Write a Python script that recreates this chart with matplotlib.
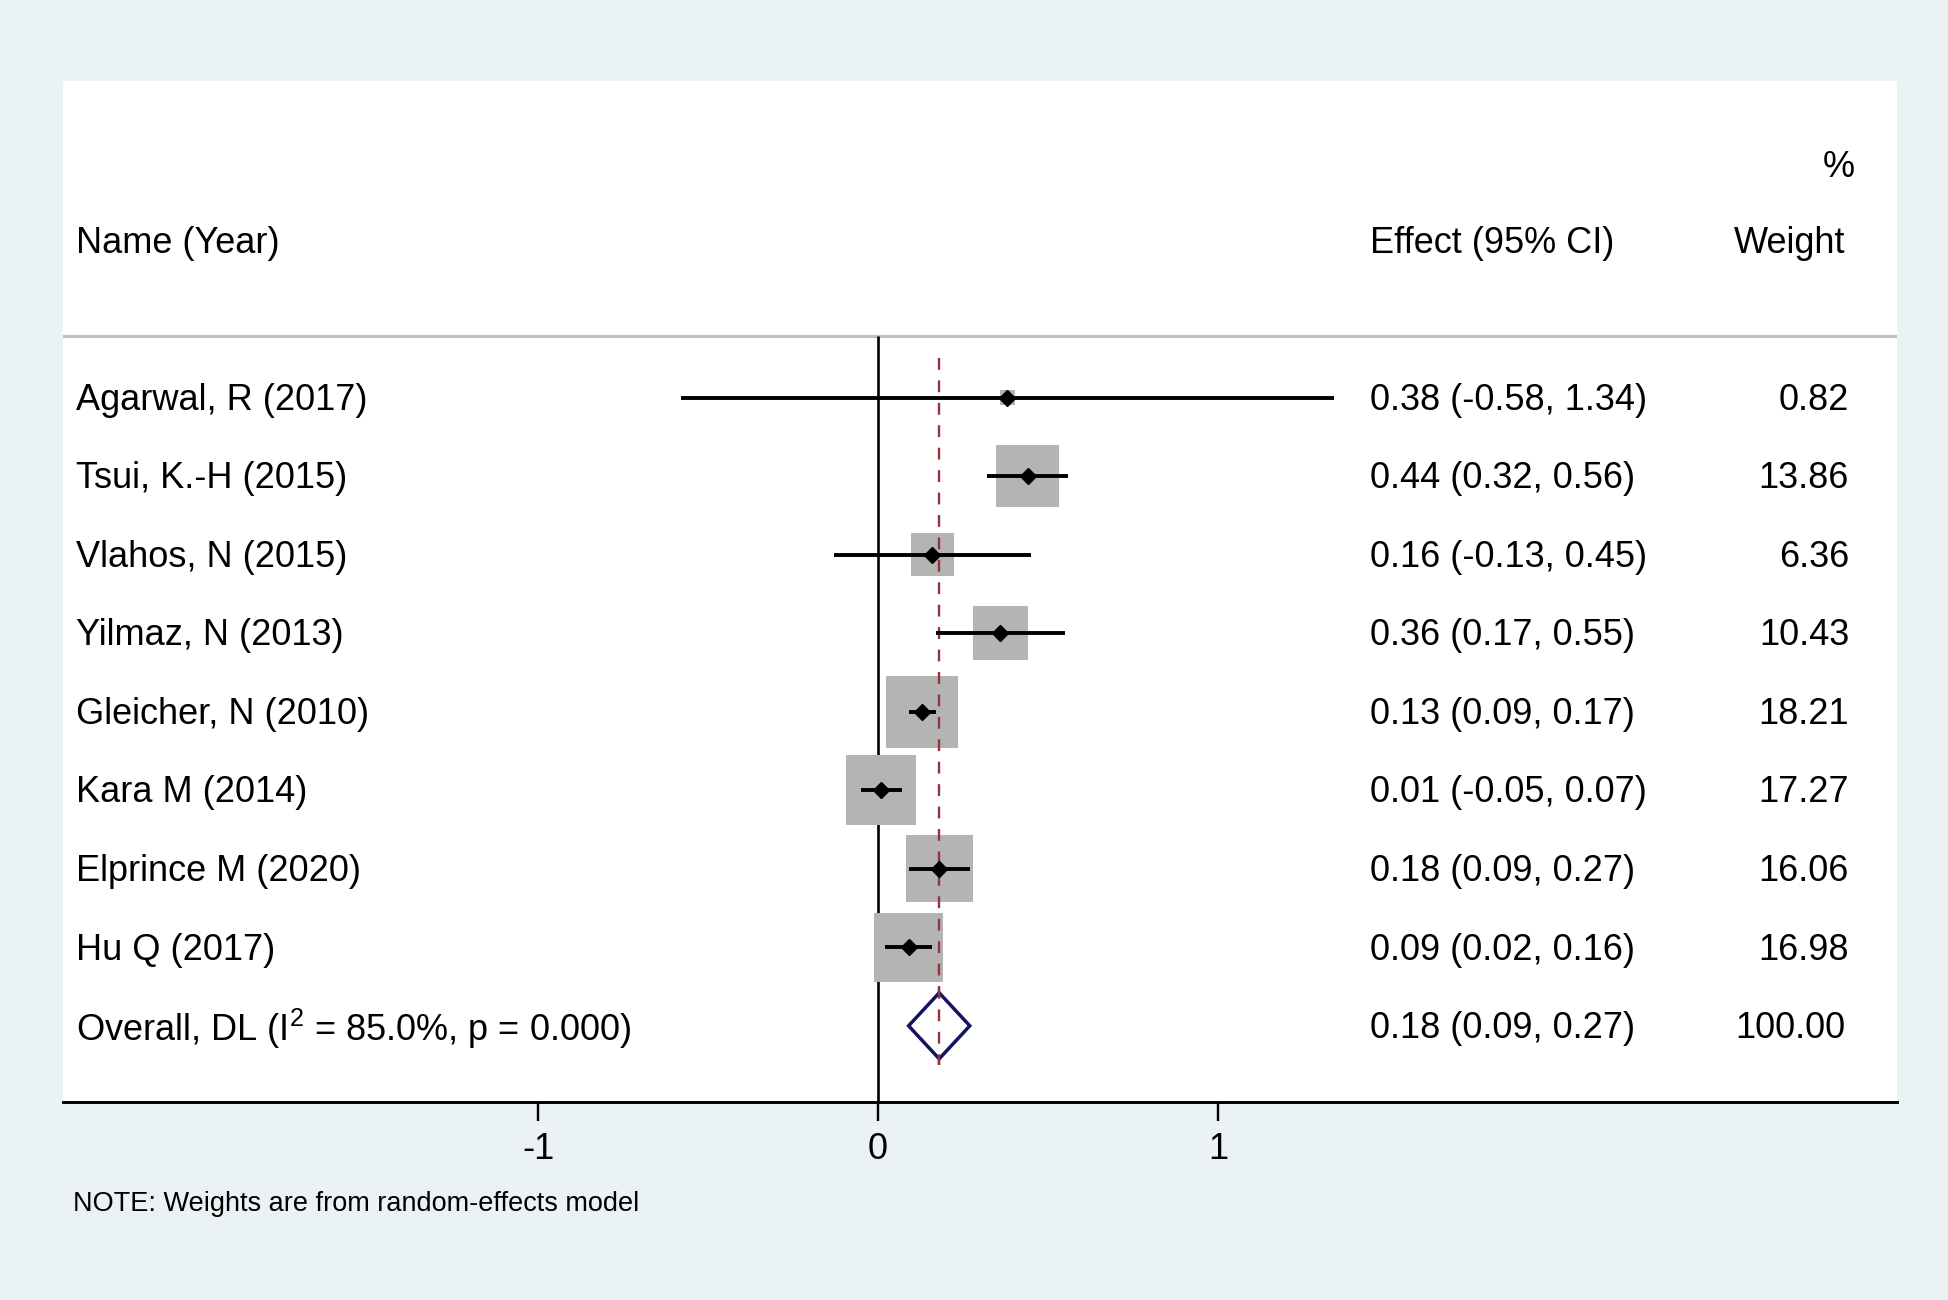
import matplotlib
matplotlib.use("Agg")
import matplotlib.pyplot as plt
import numpy as np

# ---------------- data ----------------
names = ["Agarwal, R (2017)", "Tsui, K.-H (2015)", "Vlahos, N (2015)", "Yilmaz, N (2013)",
         "Gleicher, N (2010)", "Kara M (2014)", "Elprince M (2020)", "Hu Q (2017)"]
effect = [0.38, 0.44, 0.16, 0.36, 0.13, 0.01, 0.18, 0.09]
lower = [-0.58, 0.32, -0.13, 0.17, 0.09, -0.05, 0.09, 0.02]
upper = [1.34, 0.56, 0.45, 0.55, 0.17, 0.07, 0.27, 0.16]
weight = [0.82, 13.86, 6.36, 10.43, 18.21, 17.27, 16.06, 16.98]
overall_label = "Overall, DL (I$\\mathregular{^2}$ = 85.0%, p = 0.000)"
overall = [0.18, 0.09, 0.27]
overall_weight = 100.00
xticks = [-1, 0, 1]
note = "NOTE: Weights are from random-effects model"

# ---------------- style ----------------
plt.rcParams['font.family'] = ['Liberation Sans', 'DejaVu Sans']
plt.rcParams['mathtext.fontset'] = 'custom'
plt.rcParams['mathtext.rm'] = 'Liberation Sans'
plt.rcParams['mathtext.it'] = 'Liberation Sans:italic'

BG = '#EAF2F3'
BOX = '#B4B4B4'
NAVY = '#14145F'
MAROON = '#90353B'
FS = 26

W, H = 1948, 1300
fig = plt.figure(figsize=(W / 100, H / 100), dpi=100, facecolor=BG)
ax_left, ax_right, ax_top, ax_bottom = 63, 1897, 81, 1102
ax = fig.add_axes([ax_left / W, 1 - ax_bottom / H, (ax_right - ax_left) / W, (ax_bottom - ax_top) / H])
ax.set_facecolor('white')

x0_px, unit_px = 878, 340.0
xlim = ((ax_left - x0_px) / unit_px, (ax_right - x0_px) / unit_px)
ax.set_xlim(*xlim)
ylim = (8.97, -4.03)
ax.set_ylim(*ylim)

for s in ['top', 'left', 'right']:
    ax.spines[s].set_visible(False)
ax.spines['bottom'].set_linewidth(2.1)
ax.set_yticks([])
ax.set_xticks(xticks)
ax.set_xticklabels([str(t) for t in xticks], fontsize=FS)
ax.tick_params(axis='x', direction='out', length=13.5, width=1.7, pad=8)

n = len(names)
rows = np.arange(n)
ov_row = n
ty = 0.035  # small downward text offset (rows)

# header separator
sep_y = -0.78
ax.axhline(sep_y, color='#C0C0C0', lw=2.3, zorder=1)
# null line
ax.vlines(0, sep_y, ylim[0], color='black', lw=1.9, zorder=2)
# overall dashed line
dash = (0, (5, 4.5))
ax.vlines(overall[0], -0.5, ov_row + 0.5, color=MAROON, lw=1.7, linestyles=dash, zorder=4)

# boxes
ax.scatter(effect, rows, s=[146.3 * w for w in weight], marker='s', color=BOX,
           linewidths=0, zorder=3)
# CIs
ax.hlines(rows, lower, upper, color='black', lw=2.8, zorder=5)
# point estimates
ax.plot(effect, rows, linestyle='none', marker='D', markersize=7.8, color='black', zorder=6)

# overall diamond
dh = 0.42
ax.fill([overall[1], overall[0], overall[2], overall[0], overall[1]],
        [ov_row, ov_row - dh, ov_row, ov_row + dh, ov_row],
        facecolor='white', edgecolor=NAVY, lw=2.5, zorder=5)
ax.vlines(overall[0], ov_row - 0.5, ov_row + 0.5, color=MAROON, lw=1.7,
          linestyles=dash, zorder=6)

# text columns
name_x = (76 - x0_px) / unit_px
eff_x = (1370 - x0_px) / unit_px
wt_x = (1849 - x0_px) / unit_px
pct_x = (1855 - x0_px) / unit_px

ax.text(name_x, -2 + ty, "Name (Year)", fontsize=FS, va='center', ha='left')
ax.text(eff_x, -2 + ty, "Effect (95% CI)", fontsize=FS, va='center', ha='left')
ax.text(wt_x - 0.01, -2 + ty, "Weight", fontsize=FS, va='center', ha='right')
ax.text(pct_x, -3 + ty + 0.04, "%", fontsize=FS, va='center', ha='right')

for i in range(n):
    ax.text(name_x, rows[i] + ty, names[i], fontsize=FS, va='center', ha='left')
    ax.text(eff_x, rows[i] + ty, f"{effect[i]:.2f} ({lower[i]:.2f}, {upper[i]:.2f})",
            fontsize=FS, va='center', ha='left')
    ax.text(wt_x, rows[i] + ty, f"{weight[i]:.2f}", fontsize=FS, va='center', ha='right')

ax.text(name_x, ov_row + ty, overall_label, fontsize=FS, va='center', ha='left')
ax.text(eff_x, ov_row + ty, f"{overall[0]:.2f} ({overall[1]:.2f}, {overall[2]:.2f})",
        fontsize=FS, va='center', ha='left')
ax.text(wt_x - 0.01, ov_row + ty, f"{overall_weight:.2f}", fontsize=FS, va='center', ha='right')

fig.text(73 / W, 1 - 1204 / H, note, fontsize=19.5, va='center', ha='left')

fig.savefig('out.png', dpi=100, facecolor=BG)
